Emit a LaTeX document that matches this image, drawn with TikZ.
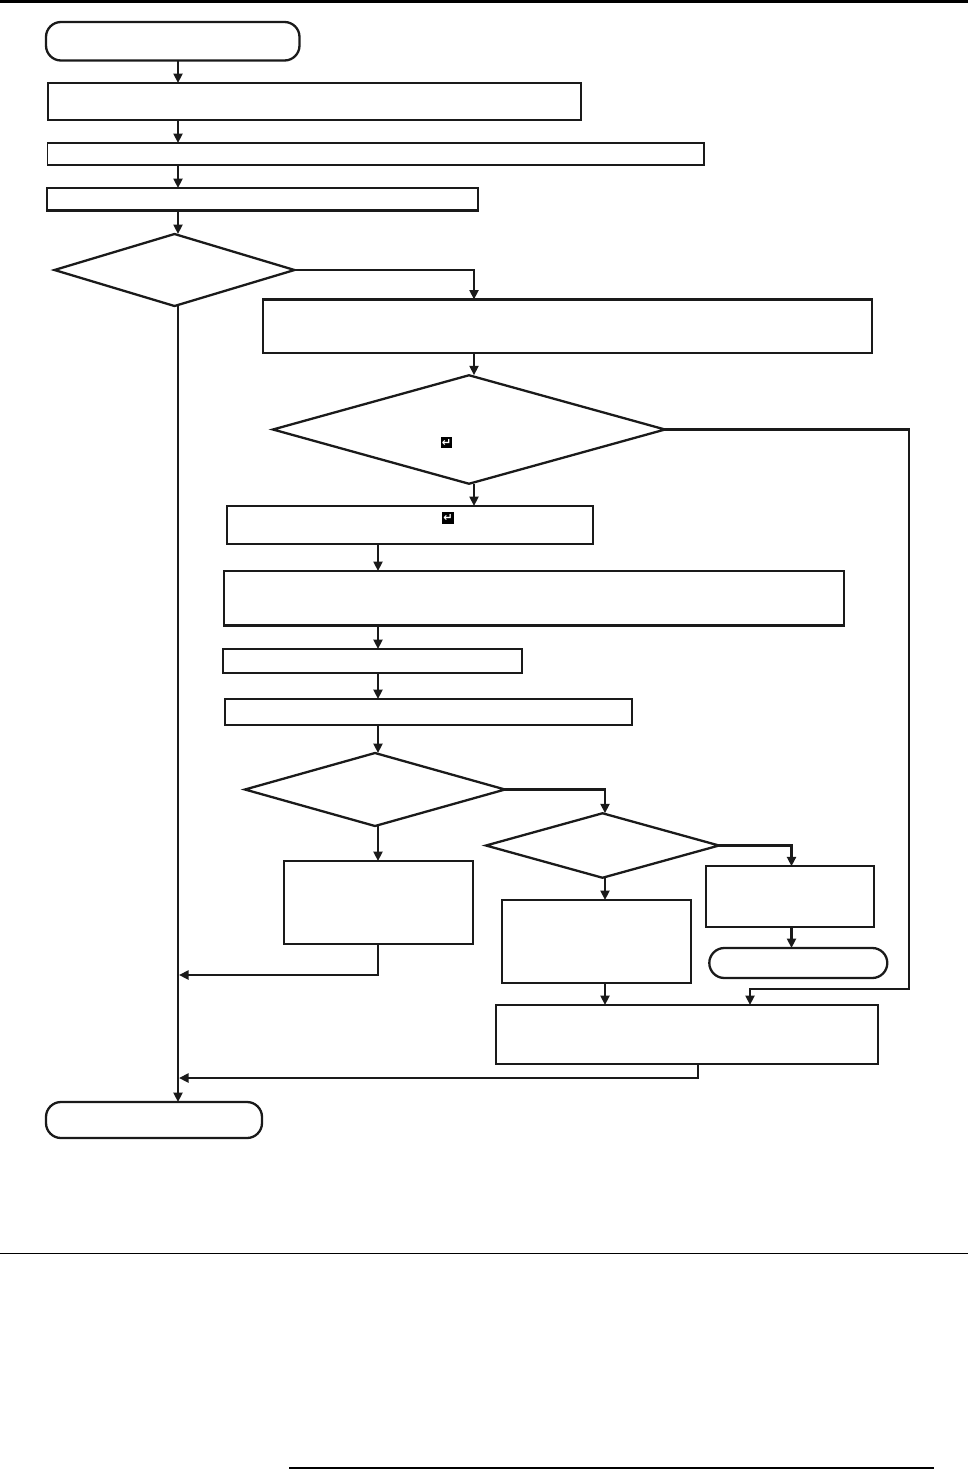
\documentclass[tikz,border=0pt]{standalone}
\usepackage{fontspec}
\usepackage{tikz}
\usetikzlibrary{calc, positioning, arrows.meta, shapes.geometric}
\newfontfamily\keyfont{DejaVu Sans}
\definecolor{inkblack}{RGB}{26,26,26}

\begin{document}
\begin{tikzpicture}[
  stepbox/.style={draw=inkblack, line width=0.046cm, minimum width=1cm, minimum height=0.5cm, inner sep=0pt, outer sep=0pt, anchor=south west},
  terminal/.style={stepbox, rounded corners=0.3cm},
  decision/.style={draw=inkblack, line width=0.046cm, shape=diamond, inner sep=0pt, outer sep=0pt},
  keycap/.style={fill=black, text=white, inner sep=0pt, outer sep=0pt, minimum size=0.23cm, font=\keyfont\bfseries\fontsize{6.4}{7}\selectfont},
  flow/.style={draw=inkblack, line width=0.048cm, -{Triangle[length=0.19cm, width=0.18cm]}},
  rule/.style={draw=black}
]
\useasboundingbox (0,0) rectangle (19.36,-29.38);

% page rules
\coordinate (ruleTopL) at (0,-0.025);
\coordinate (ruleTopR) at (19.36,-0.025);
\coordinate (ruleMidL) at (0,-25.07);
\coordinate (ruleMidR) at (19.36,-25.07);
\coordinate (ruleEndL) at (5.78,-29.36);
\coordinate (ruleEndR) at (18.68,-29.36);
\draw[rule, line width=0.055cm] (ruleTopL) -- (ruleTopR);
\draw[rule, line width=0.03cm] (ruleMidL) -- (ruleMidR);
\draw[rule, line width=0.05cm] (ruleEndL) -- (ruleEndR);

% columns the connectors run along
\coordinate (colA) at (3.56,0);
\coordinate (colB) at (9.48,0);
\coordinate (colC) at (7.56,0);
\coordinate (colD) at (12.10,0);
\coordinate (colE) at (15.83,0);
\coordinate (colF) at (15.00,0);
\coordinate (colG) at (13.96,0);
\coordinate (loopR) at (18.18,-19.78);
\coordinate (joinA) at (3.58,-19.50);
\coordinate (joinB) at (3.58,-21.56);

% left column
\node[terminal, minimum width=5.07cm, minimum height=0.77cm] (start) at (0.92,-1.21) {};
\node[stepbox, minimum width=10.654cm, minimum height=0.734cm] (box1) at (0.966,-2.394) {};
\node[stepbox, line width=0.03cm, minimum width=13.134cm, minimum height=0.44cm] (box2) at (0.946,-3.30) {};
\node[stepbox, minimum width=8.62cm, minimum height=0.45cm] (box3) at (0.94,-4.21) {};
\node[decision, minimum width=4.80cm, minimum height=1.44cm] (askA) at (3.49,-5.40) {};
\node[terminal, minimum width=4.32cm, minimum height=0.72cm] (finish) at (0.92,-22.76) {};

% middle column
\node[stepbox, minimum width=12.18cm, minimum height=1.07cm] (box4) at (5.26,-7.06) {};
\node[decision, minimum width=7.84cm, minimum height=2.17cm] (askB) at (9.38,-8.59) {};
\node[stepbox, minimum width=7.32cm, minimum height=0.76cm] (box5) at (4.54,-10.88) {};
\node[stepbox, minimum width=12.40cm, minimum height=1.09cm] (box6) at (4.48,-12.51) {};
\node[stepbox, minimum width=5.98cm, minimum height=0.48cm] (box7) at (4.46,-13.46) {};
\node[stepbox, minimum width=8.14cm, minimum height=0.52cm] (box8) at (4.50,-14.50) {};
\node[decision, minimum width=5.20cm, minimum height=1.46cm] (askC) at (7.50,-15.79) {};
\node[stepbox, minimum width=3.78cm, minimum height=1.66cm] (box9) at (5.68,-18.88) {};

% right column
\node[decision, minimum width=4.66cm, minimum height=1.29cm] (askD) at (12.05,-16.91) {};
\node[stepbox, minimum width=3.786cm, minimum height=1.66cm] (box10) at (10.034,-19.66) {};
\node[stepbox, minimum width=3.366cm, minimum height=1.22cm] (box11) at (14.12,-18.546) {};
\node[terminal, minimum width=3.56cm, minimum height=0.60cm] (stop) at (14.186,-19.56) {};
\node[stepbox, minimum width=7.652cm, minimum height=1.18cm] (box12) at (9.914,-21.28) {};

% enter keys
\node[keycap] (keyA) at (8.93,-8.85) {↵};
\node[keycap] (keyB) at (8.96,-10.36) {↵};

% connectors
\foreach \a/\b in {start/box1, box1/box2, box2/box3, box3/askA}
  \draw[flow] (\a.south -| colA) -- (\b.north -| colA);
\draw[flow] (askA.south -| colA) -- (finish.north -| colA);
\draw[flow] (askA.east) -| (box4.north -| colB);
\foreach \a/\b in {box4/askB, askB/box5}
  \draw[flow] (\a.south -| colB) -- (\b.north -| colB);
\foreach \a/\b in {box5/box6, box6/box7, box7/box8, box8/askC, askC/box9}
  \draw[flow] (\a.south -| colC) -- (\b.north -| colC);
\draw[flow] (askC.east) -| (askD.north -| colD);
\foreach \a/\b in {askD/box10, box10/box12}
  \draw[flow] (\a.south -| colD) -- (\b.north -| colD);
\draw[flow] (askD.east) -| (box11.north -| colE);
\draw[flow] (box11.south -| colE) -- (stop.north -| colE);
\draw[flow] (askB.east) -| (loopR) -| (box12.north -| colF);
\draw[flow] (box9.south -| colC) |- (joinA);
\draw[flow] (box12.south -| colG) |- (joinB);
\end{tikzpicture}
\end{document}
